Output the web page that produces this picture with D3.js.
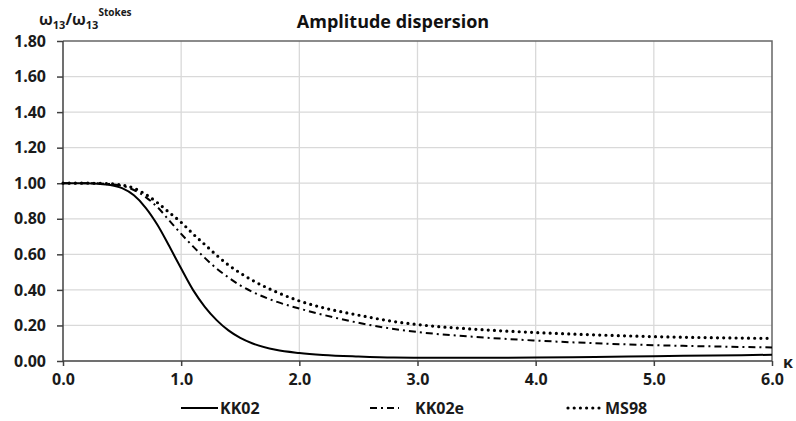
<!DOCTYPE html>
<html>
<head>
<meta charset="utf-8">
<script src="https://cdn.jsdelivr.net/npm/d3@7/dist/d3.min.js"></script>
<style>
  body { margin: 0; background: #fff; }
  svg { display: block; font-family: "Open Sans", "Noto Sans", sans-serif; }
</style>
</head>
<body>
<svg id="chart" width="796" height="421"></svg>
<script>
// wave number kappa (x values)
const kappa = [0, 0.2, 0.3, 0.4, 0.5, 0.6, 0.7, 0.8, 0.9, 1.0, 1.1, 1.2, 1.3, 1.4, 1.5, 1.6, 1.8, 2.0, 2.2, 2.5, 2.8, 3.0, 3.5, 4.0, 4.5, 5.0, 5.5, 6.0];

const kk02  = [1.000, 1.000, 0.997, 0.990, 0.972, 0.932, 0.862, 0.765, 0.645, 0.520, 0.400, 0.305, 0.230, 0.172, 0.130, 0.100, 0.063, 0.045, 0.034, 0.025, 0.019, 0.018, 0.018, 0.020, 0.023, 0.027, 0.031, 0.035];
const kk02e = [1.000, 1.000, 0.999, 0.995, 0.985, 0.962, 0.922, 0.865, 0.790, 0.715, 0.645, 0.580, 0.520, 0.470, 0.425, 0.390, 0.335, 0.295, 0.260, 0.215, 0.180, 0.163, 0.135, 0.115, 0.100, 0.089, 0.082, 0.076];
const ms98  = [1.000, 1.000, 0.999, 0.997, 0.990, 0.972, 0.937, 0.890, 0.835, 0.780, 0.715, 0.655, 0.595, 0.540, 0.495, 0.455, 0.390, 0.338, 0.300, 0.258, 0.222, 0.205, 0.178, 0.160, 0.147, 0.137, 0.131, 0.127];

const seriesNames = ["KK02", "KK02e", "MS98"];
const xTicks = [0, 1, 2, 3, 4, 5, 6];
const yTicks = [0, 0.2, 0.4, 0.6, 0.8, 1.0, 1.2, 1.4, 1.6, 1.8];

const series = [
  { name: seriesNames[0], values: kk02,  dash: null,        width: 2,   cap: "butt" },
  { name: seriesNames[1], values: kk02e, dash: "7,4,2,4",   width: 2,   cap: "butt" },
  { name: seriesNames[2], values: ms98,  dash: "0,6.2",     width: 3.2, cap: "round" }
];

const svg = d3.select("#chart");
const width = 796, height = 421;
const margin = { top: 41, right: 24, bottom: 60, left: 63 };

const x = d3.scaleLinear().domain([0, 6]).range([margin.left, width - margin.right]);
const y = d3.scaleLinear().domain([0, 1.8]).range([height - margin.bottom, margin.top]);

const axisColor = "#404040";
const gridColor = "#d9d9d9";
const fontSize = "16px";

// grid
svg.append("g")
  .selectAll("line")
  .data(yTicks.slice(1, -1))
  .join("line")
  .attr("x1", x(0)).attr("x2", x(6))
  .attr("y1", d => y(d)).attr("y2", d => y(d))
  .attr("stroke", gridColor).attr("stroke-width", 1.3);

svg.append("g")
  .selectAll("line")
  .data(xTicks.slice(1, -1))
  .join("line")
  .attr("x1", d => x(d)).attr("x2", d => x(d))
  .attr("y1", y(0)).attr("y2", y(1.8))
  .attr("stroke", gridColor).attr("stroke-width", 1.3);

// top and right border
svg.append("path")
  .attr("d", `M${x(0)},${y(1.8)}H${x(6)}V${y(0)}`)
  .attr("fill", "none")
  .attr("stroke", "#666")
  .attr("stroke-width", 1.5);

// axes
const xAxis = svg.append("g")
  .attr("transform", `translate(0,${y(0)})`)
  .call(d3.axisBottom(x).tickValues(xTicks).tickFormat(d3.format(".1f")).tickSize(5).tickPadding(8));

const yAxis = svg.append("g")
  .attr("transform", `translate(${x(0)},0)`)
  .call(d3.axisLeft(y).tickValues(yTicks).tickFormat(d3.format(".2f")).tickSize(6).tickPadding(11));

[xAxis, yAxis].forEach(a => {
  a.select(".domain").attr("stroke", axisColor).attr("stroke-width", 1.5);
  a.selectAll(".tick line").attr("stroke", axisColor).attr("stroke-width", 1.5);
  a.selectAll("text")
    .attr("fill", "#1a1a1a")
    .style("font-size", fontSize)
    .style("font-weight", "bold")
    .style("font-family", "'Open Sans', sans-serif");
});
xAxis.select(".domain").attr("d", `M${x(0)},0H${x(6)}`);
yAxis.select(".domain").attr("d", `M0,${y(0)}V${y(1.8)}`);

// lines
const line = d3.line()
  .x((d, i) => x(kappa[i]))
  .y(d => y(d))
  .curve(d3.curveMonotoneX);

svg.append("g")
  .selectAll("path")
  .data(series)
  .join("path")
  .attr("d", d => line(d.values))
  .attr("fill", "none")
  .attr("stroke", "#000")
  .attr("stroke-width", d => d.width)
  .attr("stroke-linecap", d => d.cap)
  .attr("stroke-dasharray", d => d.dash);

// title
svg.append("text")
  .attr("x", 393).attr("y", 28)
  .attr("text-anchor", "middle")
  .style("font-size", "18px")
  .style("font-weight", "bold")
  .attr("fill", "#111")
  .text("Amplitude dispersion");

// y axis label
const yl = svg.append("text")
  .attr("x", 39).attr("y", 25)
  .style("font-size", fontSize)
  .style("font-weight", "bold")
  .attr("fill", "#1a1a1a");
yl.append("tspan").text("ω");
yl.append("tspan").attr("dy", 4).style("font-size", "11px").text("13");
yl.append("tspan").attr("dy", -4).text("/ω");
yl.append("tspan").attr("dy", 4).style("font-size", "11px").text("13");
yl.append("tspan").attr("dy", -13).style("font-size", "10px").text("Stokes");

// x axis label
svg.append("text")
  .attr("x", 788).attr("y", 368)
  .attr("text-anchor", "middle")
  .style("font-size", fontSize)
  .style("font-weight", "bold")
  .attr("fill", "#1a1a1a")
  .text("κ");

// legend
const legendPos = [181, 370, 568];
const legendW = [37, 29, 35];
const lg = svg.append("g").selectAll("g")
  .data(series)
  .join("g")
  .attr("transform", (d, i) => `translate(${legendPos[i]},408)`);

lg.append("line")
  .attr("x1", 0).attr("x2", (d, i) => legendW[i])
  .attr("y1", 0).attr("y2", 0)
  .attr("stroke", "#000")
  .attr("stroke-width", d => d.width)
  .attr("stroke-linecap", d => d.cap)
  .attr("stroke-dasharray", d => d.dash);

lg.append("text")
  .attr("x", (d, i) => legendW[i] + (i === 1 ? 16 : 2))
  .attr("y", 6)
  .style("font-size", fontSize)
  .style("font-weight", "bold")
  .attr("fill", "#1a1a1a")
  .text(d => d.name);
</script>
</body>
</html>
